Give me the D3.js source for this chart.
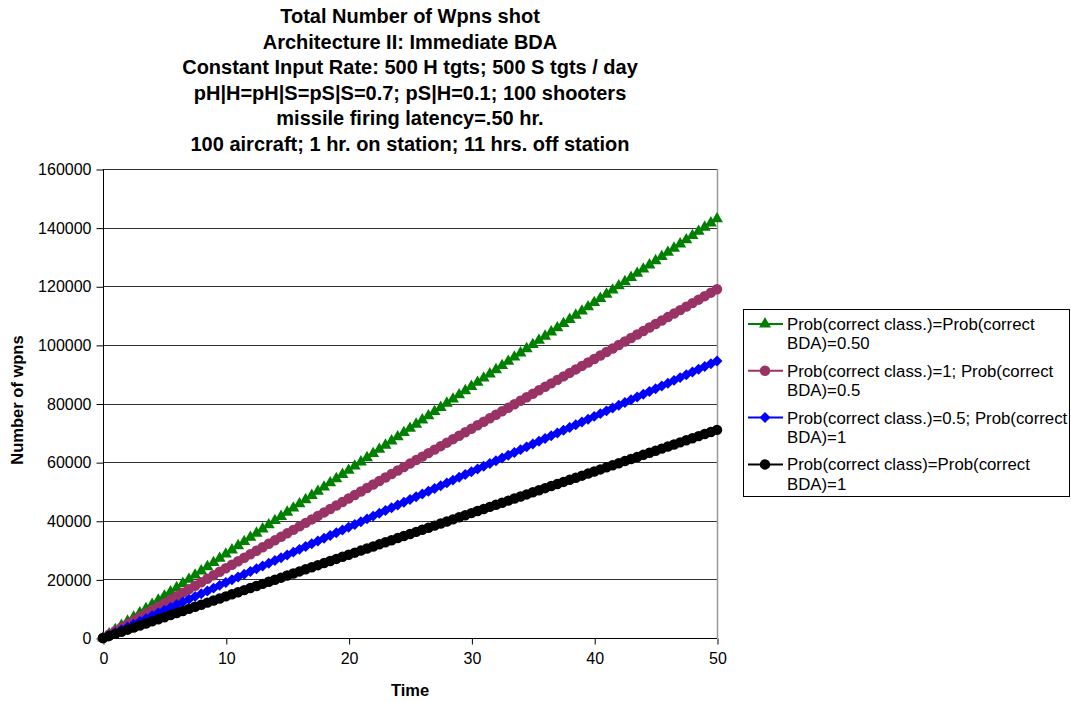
<!DOCTYPE html>
<html>
<head>
<meta charset="utf-8">
<script src="https://cdn.jsdelivr.net/npm/d3@7"></script>
<style>
  body { margin: 0; background: #fff; }
  svg text { font-family: "Liberation Sans", Arial, sans-serif; }
</style>
</head>
<body>
<div class="display-svg"></div>
<script>
// chart data
var titleLines = [
  'Total Number of Wpns shot',
  'Architecture II: Immediate BDA',
  'Constant Input Rate: 500 H tgts; 500 S tgts / day',
  'pH|H=pH|S=pS|S=0.7; pS|H=0.1; 100 shooters',
  'missile firing latency=.50 hr.',
  '100 aircraft; 1 hr. on station; 11 hrs. off station'
];

var time = [0, 0.5, 1, 1.5, 2, 2.5, 3, 3.5, 4, 4.5, 5, 5.5, 6, 6.5, 7, 7.5, 8, 8.5, 9, 9.5,
  10, 10.5, 11, 11.5, 12, 12.5, 13, 13.5, 14, 14.5, 15, 15.5, 16, 16.5, 17, 17.5, 18, 18.5, 19, 19.5,
  20, 20.5, 21, 21.5, 22, 22.5, 23, 23.5, 24, 24.5, 25, 25.5, 26, 26.5, 27, 27.5, 28, 28.5, 29, 29.5,
  30, 30.5, 31, 31.5, 32, 32.5, 33, 33.5, 34, 34.5, 35, 35.5, 36, 36.5, 37, 37.5, 38, 38.5, 39, 39.5,
  40, 40.5, 41, 41.5, 42, 42.5, 43, 43.5, 44, 44.5, 45, 45.5, 46, 46.5, 47, 47.5, 48, 48.5, 49, 49.5, 50];

var greenVals = [0, 1430, 2860, 4290, 5720, 7150, 8580, 10010, 11440, 12870,
  14300, 15730, 17160, 18590, 20020, 21450, 22880, 24310, 25740, 27170,
  28600, 30030, 31460, 32890, 34320, 35750, 37180, 38610, 40040, 41470,
  42900, 44330, 45760, 47190, 48620, 50050, 51480, 52910, 54340, 55770,
  57200, 58630, 60060, 61490, 62920, 64350, 65780, 67210, 68640, 70070,
  71500, 72930, 74360, 75790, 77220, 78650, 80080, 81510, 82940, 84370,
  85800, 87230, 88660, 90090, 91520, 92950, 94380, 95810, 97240, 98670,
  100100, 101530, 102960, 104390, 105820, 107250, 108680, 110110, 111540, 112970,
  114400, 115830, 117260, 118690, 120120, 121550, 122980, 124410, 125840, 127270,
  128700, 130130, 131560, 132990, 134420, 135850, 137280, 138710, 140140, 141570, 143000];

var purpleVals = [0, 1190, 2380, 3570, 4760, 5950, 7140, 8330, 9520, 10710,
  11900, 13090, 14280, 15470, 16660, 17850, 19040, 20230, 21420, 22610,
  23800, 24990, 26180, 27370, 28560, 29750, 30940, 32130, 33320, 34510,
  35700, 36890, 38080, 39270, 40460, 41650, 42840, 44030, 45220, 46410,
  47600, 48790, 49980, 51170, 52360, 53550, 54740, 55930, 57120, 58310,
  59500, 60690, 61880, 63070, 64260, 65450, 66640, 67830, 69020, 70210,
  71400, 72590, 73780, 74970, 76160, 77350, 78540, 79730, 80920, 82110,
  83300, 84490, 85680, 86870, 88060, 89250, 90440, 91630, 92820, 94010,
  95200, 96390, 97580, 98770, 99960, 101150, 102340, 103530, 104720, 105910,
  107100, 108290, 109480, 110670, 111860, 113050, 114240, 115430, 116620, 117810, 119000];

var blueVals = [0, 945, 1890, 2835, 3780, 4725, 5670, 6615, 7560, 8505,
  9450, 10395, 11340, 12285, 13230, 14175, 15120, 16065, 17010, 17955,
  18900, 19845, 20790, 21735, 22680, 23625, 24570, 25515, 26460, 27405,
  28350, 29295, 30240, 31185, 32130, 33075, 34020, 34965, 35910, 36855,
  37800, 38745, 39690, 40635, 41580, 42525, 43470, 44415, 45360, 46305,
  47250, 48195, 49140, 50085, 51030, 51975, 52920, 53865, 54810, 55755,
  56700, 57645, 58590, 59535, 60480, 61425, 62370, 63315, 64260, 65205,
  66150, 67095, 68040, 68985, 69930, 70875, 71820, 72765, 73710, 74655,
  75600, 76545, 77490, 78435, 79380, 80325, 81270, 82215, 83160, 84105,
  85050, 85995, 86940, 87885, 88830, 89775, 90720, 91665, 92610, 93555, 94500];

var blackVals = [0, 710, 1420, 2130, 2840, 3550, 4260, 4970, 5680, 6390,
  7100, 7810, 8520, 9230, 9940, 10650, 11360, 12070, 12780, 13490,
  14200, 14910, 15620, 16330, 17040, 17750, 18460, 19170, 19880, 20590,
  21300, 22010, 22720, 23430, 24140, 24850, 25560, 26270, 26980, 27690,
  28400, 29110, 29820, 30530, 31240, 31950, 32660, 33370, 34080, 34790,
  35500, 36210, 36920, 37630, 38340, 39050, 39760, 40470, 41180, 41890,
  42600, 43310, 44020, 44730, 45440, 46150, 46860, 47570, 48280, 48990,
  49700, 50410, 51120, 51830, 52540, 53250, 53960, 54670, 55380, 56090,
  56800, 57510, 58220, 58930, 59640, 60350, 61060, 61770, 62480, 63190,
  63900, 64610, 65320, 66030, 66740, 67450, 68160, 68870, 69580, 70290, 71000];

var seriesNames = [
  ['Prob(correct class.)=Prob(correct', 'BDA)=0.50'],
  ['Prob(correct class.)=1; Prob(correct', 'BDA)=0.5'],
  ['Prob(correct class.)=0.5; Prob(correct', 'BDA)=1'],
  ['Prob(correct class)=Prob(correct', 'BDA)=1']
];
var seriesValues = [greenVals, purpleVals, blueVals, blackVals];
var seriesColors = ['#008000', '#993366', '#0000ff', '#000000'];
var seriesMarkers = ['triangle', 'circle', 'diamond', 'circle'];

var xTicks = [0, 10, 20, 30, 40, 50];
var yTicks = [0, 20000, 40000, 60000, 80000, 100000, 120000, 140000, 160000];

var width = 1071,
    height = 702,
    plotLeft = 103, plotRight = 717,
    plotTop = 169, plotBottom = 638;

var svg = d3.select('.display-svg')
  .append('svg')
  .attr('width', width)
  .attr('height', height);

// title
svg.append('g').selectAll('text')
  .data(titleLines)
  .enter()
  .append('text')
  .attr('x', 410)
  .attr('y', (d, i) => 23 + i * 25.6)
  .attr('text-anchor', 'middle')
  .style('font-size', '20px')
  .style('font-weight', 'bold')
  .text(d => d);

var xScale = d3.scaleLinear().domain([0, 50]).range([plotLeft, plotRight]);
var yScale = d3.scaleLinear().domain([0, 160000]).range([plotBottom, plotTop]);

// gridlines
svg.append('g').selectAll('line')
  .data(yTicks.slice(1))
  .enter()
  .append('line')
  .attr('x1', plotLeft)
  .attr('x2', plotRight)
  .attr('y1', d => Math.round(yScale(d)) + 0.5)
  .attr('y2', d => Math.round(yScale(d)) + 0.5)
  .attr('stroke', '#333')
  .attr('stroke-width', 1);

// plot area right edge
svg.append('line')
  .attr('x1', plotRight + 0.5).attr('x2', plotRight + 0.5)
  .attr('y1', plotTop).attr('y2', plotBottom)
  .attr('stroke', '#999')
  .attr('stroke-width', 1.5);

var yAxis = d3.axisLeft(yScale).tickValues(yTicks).tickSize(7).tickPadding(5).tickFormat(d3.format('d'));
var yAxisGroup = svg.append('g')
  .attr('transform', 'translate(' + (plotLeft + 0.5) + ',0.5)')
  .call(yAxis);

var xAxis = d3.axisBottom(xScale).tickValues(xTicks).tickSize(6).tickPadding(8).tickFormat(d3.format('d'));
var xAxisGroup = svg.append('g')
  .attr('transform', 'translate(0.5,' + (plotBottom + 0.5) + ')')
  .call(xAxis);

[yAxisGroup, xAxisGroup].forEach(g => {
  g.selectAll('path').attr('stroke', '#000');
  g.selectAll('line').attr('stroke', '#000');
  g.selectAll('text')
    .style('font-size', '16px')
    .style('font-family', '"Liberation Sans", Arial, sans-serif')
    .attr('fill', '#000');
});
yAxisGroup.select('.domain').attr('d', 'M0,' + (plotTop - 0.5) + 'V' + (plotBottom - 0.5));
xAxisGroup.select('.domain').attr('d', 'M' + (plotLeft - 0.5) + ',0H' + (plotRight - 0.5));

// axis titles
svg.append('text')
  .attr('x', 410)
  .attr('y', 696)
  .attr('text-anchor', 'middle')
  .style('font-size', '16.5px')
  .style('font-weight', 'bold')
  .text('Time');

svg.append('text')
  .attr('transform', 'rotate(-90)')
  .attr('x', -400)
  .attr('y', 23)
  .attr('text-anchor', 'middle')
  .style('font-size', '16.5px')
  .style('font-weight', 'bold')
  .text('Number of wpns');

// marker shapes (diamond = square turned 45 degrees)
function markerPath(type) {
  if (type === 'triangle') return d3.symbol().type(d3.symbolTriangle).size(62)();
  if (type === 'diamond') return d3.symbol().type(d3.symbolSquare).size(60)();
  return d3.symbol().type(d3.symbolCircle).size(86)();
}
function markerTransform(type, x, y) {
  return 'translate(' + x + ',' + y + ')' + (type === 'diamond' ? ' rotate(45)' : '');
}

var line = d3.line()
  .x((d, i) => xScale(time[i]))
  .y(d => yScale(d));

seriesValues.forEach((vals, s) => {
  var g = svg.append('g');
  g.append('path')
    .attr('d', line(vals))
    .attr('fill', 'none')
    .attr('stroke', seriesColors[s])
    .attr('stroke-width', 3);
  g.selectAll('path.mk')
    .data(vals)
    .enter()
    .append('path')
    .attr('class', 'mk')
    .attr('d', markerPath(seriesMarkers[s]))
    .attr('transform', (d, i) => markerTransform(seriesMarkers[s], xScale(time[i]), yScale(d)))
    .attr('fill', seriesColors[s]);
});

// legend
var legend = svg.append('g');
legend.append('rect')
  .attr('x', 743.5)
  .attr('y', 309.5)
  .attr('width', 326)
  .attr('height', 187)
  .attr('fill', '#fff')
  .attr('stroke', '#000');

seriesNames.forEach((lines, s) => {
  var y0 = 324 + s * 46.8;
  legend.append('line')
    .attr('x1', 748).attr('x2', 783)
    .attr('y1', y0).attr('y2', y0)
    .attr('stroke', seriesColors[s])
    .attr('stroke-width', 2);
  legend.append('path')
    .attr('d', markerPath(seriesMarkers[s]))
    .attr('transform', markerTransform(seriesMarkers[s], 765, y0))
    .attr('fill', seriesColors[s]);
  lines.forEach((t, k) => {
    legend.append('text')
      .attr('x', 787)
      .attr('y', y0 + 6 + k * 19.2)
      .style('font-size', '16.8px')
      .text(t);
  });
});
</script>
</body>
</html>
